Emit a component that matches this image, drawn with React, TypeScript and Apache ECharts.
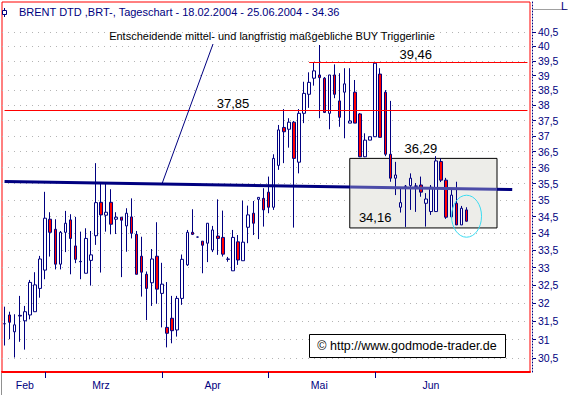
import React, { useEffect, useRef } from "react";
import * as echarts from "echarts";

const TITLE = "BRENT DTD ,BRT-, Tageschart - 18.02.2004 - 25.06.2004 - 34.36";
const NOTE = "Entscheidende mittel- und langfristig maßgebliche BUY Triggerlinie";
const COPYRIGHT = "© http://www.godmode-trader.de";

// [open, close, low, high] per trading day, 18.02.2004 - 25.06.2004
const ohlc: number[][] = [
  [31.43, 31.43, 30.84, 31.90],
  [31.67, 31.47, 31.01, 31.76],
  [31.21, 31.40, 30.52, 31.69],
  [31.66, 31.64, 30.94, 32.20],
  [31.51, 31.76, 30.73, 31.92],
  [31.67, 32.58, 31.55, 32.65],
  [31.76, 32.51, 31.76, 32.87],
  [32.41, 33.25, 32.15, 33.34],
  [32.93, 34.45, 32.67, 35.25],
  [34.42, 34.03, 33.32, 34.63],
  [34.12, 33.10, 32.95, 34.42],
  [33.10, 34.03, 32.95, 34.07],
  [34.03, 34.30, 33.45, 34.67],
  [34.40, 33.85, 32.81, 34.57],
  [33.63, 33.24, 33.13, 34.49],
  [33.18, 33.17, 32.67, 34.05],
  [32.84, 33.85, 32.84, 34.15],
  [33.21, 33.37, 32.49, 34.07],
  [33.93, 34.92, 33.66, 36.14],
  [34.93, 34.55, 32.86, 35.55],
  [34.54, 34.63, 34.05, 35.53],
  [34.93, 34.27, 33.97, 35.33],
  [34.42, 34.48, 33.98, 34.63],
  [34.48, 34.39, 32.73, 34.48],
  [34.22, 34.60, 33.46, 34.75],
  [34.49, 34.00, 33.85, 35.05],
  [33.97, 32.81, 32.81, 34.07],
  [33.33, 32.87, 32.18, 33.90],
  [32.81, 32.41, 31.53, 32.89],
  [32.57, 33.25, 31.92, 33.54],
  [33.33, 32.39, 31.98, 34.33],
  [32.27, 32.53, 31.33, 33.14],
  [31.33, 31.17, 30.79, 32.59],
  [31.58, 31.24, 30.90, 32.20],
  [31.26, 32.13, 31.08, 32.20],
  [32.13, 33.24, 31.95, 33.38],
  [33.08, 34.03, 33.05, 34.10],
  [34.03, 33.97, 33.95, 34.72],
  [33.89, 33.89, 33.88, 33.90],
  [33.77, 33.65, 32.84, 33.77],
  [33.71, 34.30, 33.16, 34.30],
  [33.51, 34.10, 33.45, 34.22],
  [33.92, 33.85, 33.37, 35.02],
  [33.88, 33.39, 33.32, 34.68],
  [33.25, 33.24, 33.17, 33.31],
  [32.91, 33.88, 32.91, 34.10],
  [33.75, 33.22, 33.08, 33.95],
  [33.20, 33.74, 33.20, 34.98],
  [34.18, 34.55, 33.71, 34.83],
  [34.60, 34.30, 33.95, 34.97],
  [35.02, 35.08, 33.83, 35.08],
  [35.05, 34.70, 34.20, 35.36],
  [35.24, 34.78, 34.60, 35.72],
  [34.78, 36.29, 34.70, 36.42],
  [36.07, 37.20, 35.93, 37.36],
  [37.28, 37.14, 36.14, 37.88],
  [37.22, 37.45, 36.63, 37.58],
  [37.45, 36.29, 34.17, 37.49],
  [36.17, 37.74, 35.82, 37.88],
  [37.74, 38.40, 37.42, 38.79],
  [38.37, 38.77, 37.92, 39.11],
  [38.91, 39.16, 38.66, 39.45],
  [39.02, 38.93, 37.58, 40.05],
  [38.91, 37.77, 37.75, 38.95],
  [37.74, 39.02, 37.22, 39.02],
  [39.02, 38.37, 38.24, 39.38],
  [38.15, 37.61, 37.30, 39.08],
  [38.44, 38.72, 36.93, 39.25],
  [37.42, 37.49, 37.42, 39.25],
  [38.44, 37.42, 37.42, 38.85],
  [37.72, 36.34, 36.33, 37.75],
  [36.34, 36.87, 36.33, 37.09],
  [36.87, 36.98, 36.87, 36.98],
  [36.98, 39.42, 36.97, 39.46],
  [39.05, 36.96, 36.96, 39.25],
  [38.44, 36.42, 36.36, 38.51],
  [36.42, 35.67, 35.56, 38.15],
  [35.67, 35.77, 35.15, 36.18],
  [34.78, 34.92, 34.62, 35.36],
  [35.42, 35.42, 34.19, 35.46],
  [35.44, 35.67, 34.70, 35.82],
  [35.42, 35.43, 34.64, 35.52],
  [35.46, 35.24, 35.10, 35.72],
  [34.90, 35.03, 34.20, 35.21],
  [34.65, 35.39, 34.55, 35.46],
  [34.65, 36.21, 34.65, 36.36],
  [36.19, 35.61, 35.55, 36.29],
  [35.61, 34.48, 34.43, 35.68],
  [34.49, 35.15, 34.45, 35.36],
  [34.90, 34.25, 34.25, 35.56],
  [34.25, 34.75, 34.25, 34.82],
  [34.70, 34.36, 34.35, 34.78],
];

const FUTURE_SLOTS = 12;
const HOLIDAYS = ["09.04.2004"];
const MONTH_NAMES = ["Jan", "Feb", "Mrz", "Apr", "Mai", "Jun", "Jul", "Aug"];
const Y_TICKS = [30.5, 31, 31.5, 32, 32.5, 33, 33.5, 34, 34.5, 35, 35.5, 36, 36.5, 37, 37.5, 38, 38.5, 39, 39.5, 40, 40.5];
const TRIGGER_LINE = [[0, 35.57], [100, 35.32]];
const LEVEL_UPPER = 39.46;
const LEVEL_MID = 37.85;
const BOX_TOP = 36.29;
const BOX_BOTTOM = 34.16;
const LAST_PRICE = 34.36;

const NAVY = "#000080";
const FONT = '"Liberation Sans", Arial, Helvetica, sans-serif';

function pad(n: number) {
  return n < 10 ? "0" + n : String(n);
}

function buildDates(count: number): string[] {
  const out: string[] = [];
  const d = new Date(2004, 1, 18);
  while (out.length < count) {
    const wd = d.getDay();
    const s = pad(d.getDate()) + "." + pad(d.getMonth() + 1) + "." + d.getFullYear();
    if (wd !== 0 && wd !== 6 && HOLIDAYS.indexOf(s) < 0) out.push(s);
    d.setDate(d.getDate() + 1);
  }
  return out;
}

const dates = buildDates(ohlc.length + FUTURE_SLOTS);
const monthOf = (s: string) => parseInt(s.split(".")[1], 10);

const monthStarts: number[] = [];
const monthRanges: Record<number, [number, number]> = {};
dates.forEach((s, i) => {
  const m = monthOf(s);
  if (i > 0 && i < ohlc.length && m !== monthOf(dates[i - 1])) monthStarts.push(i);
  if (!monthRanges[m]) monthRanges[m] = [i, i];
  monthRanges[m][1] = i;
});
const labelIdx: number[] = [];
Object.keys(monthRanges).forEach((k) => {
  const m = parseInt(k, 10);
  const [a, b] = monthRanges[m];
  if (a < ohlc.length) labelIdx.push(Math.round((a + b) / 2));
});

const option: any = {
  animation: false,
  backgroundColor: "#FFFFFF",
  title: {
    text: TITLE,
    left: 19,
    top: 6,
    padding: 0,
    textStyle: { fontFamily: FONT, fontSize: 11, fontWeight: "normal", color: NAVY },
  },
  grid: {
    left: 2,
    top: 2,
    right: 38,
    bottom: 23,
    show: true,
    borderColor: "#FF0000",
    borderWidth: 1,
    backgroundColor: "transparent",
  },
  xAxis: {
    type: "category",
    data: dates,
    boundaryGap: true,
    axisLine: { show: true, lineStyle: { color: "#FF0000", width: 2 } },
    axisTick: {
      show: true,
      alignWithLabel: true,
      interval: (i: number) => monthStarts.indexOf(i) >= 0,
      length: 6,
      lineStyle: { color: NAVY },
    },
    axisLabel: {
      interval: (i: number) => labelIdx.indexOf(i) >= 0,
      formatter: (v: string) => MONTH_NAMES[monthOf(v) - 1],
      color: NAVY,
      fontSize: 10.5,
      fontFamily: FONT,
      margin: 7,
    },
    splitLine: { show: false },
  },
  yAxis: {
    type: "log",
    logBase: 10,
    min: 30.138,
    max: 41.576,
    position: "right",
    offset: 2.5,
    axisLine: { show: true, lineStyle: { color: NAVY, type: [1, 2] } },
    axisTick: { show: true, length: 3.5, customValues: Y_TICKS, lineStyle: { color: NAVY } },
    axisLabel: {
      customValues: Y_TICKS,
      formatter: (v: number) => String(v).replace(".", ","),
      color: NAVY,
      fontSize: 10.5,
      fontFamily: FONT,
      margin: 5.5,
    },
    splitLine: { show: true, lineStyle: { color: "#B4B4B4", type: [1, 5], width: 1 } },
  },
  visualMap: {
    show: false,
    type: "piecewise",
    dimension: 0,
    seriesIndex: 1,
    pieces: [
      { lt: 68, color: NAVY },
      { gte: 68, lt: 97, color: "#4C4CA8" },
      { gte: 97, color: NAVY },
    ],
  },
  series: [
    {
      type: "candlestick",
      data: ohlc,
      barWidth: 3,
      z: 2,
      itemStyle: {
        color: "#FFFFFF",
        color0: "#FF0000",
        borderColor: NAVY,
        borderColor0: NAVY,
        borderColorDoji: NAVY,
        borderWidth: 1,
      },
      markArea: {
        silent: true,
        itemStyle: { color: "#EDEDE9", borderColor: "#000000", borderWidth: 1 },
        data: [[{ xAxis: 68, yAxis: BOX_TOP }, { xAxis: 97, yAxis: BOX_BOTTOM }]],
      },
      markLine: {
        silent: true,
        symbol: ["none", "none"],
        lineStyle: { color: "#FF0000", width: 1, type: "solid" },
        label: { show: false },
        data: [
          [{ coord: [0, LEVEL_MID] }, { coord: [103, LEVEL_MID] }],
          [{ coord: [60, LEVEL_UPPER] }, { coord: [103, LEVEL_UPPER] }],
          {
            yAxis: LAST_PRICE,
            lineStyle: { opacity: 0 },
            label: {
              show: true,
              position: "end",
              distance: 1,
              formatter: "- 34.36",
              color: "#000000",
              fontFamily: FONT,
              fontSize: 10.5,
              backgroundColor: "#FFFFE1",
              padding: [2, 6, 1, 2],
            },
          },
        ],
      },
      markPoint: {
        silent: true,
        symbol: "rect",
        symbolSize: 0,
        label: { show: true, position: "top", color: "#000000", fontFamily: FONT, fontSize: 13 },
        data: [
          { coord: [45, LEVEL_MID], label: { formatter: "37,85", distance: 0 } },
          { coord: [81, LEVEL_UPPER], label: { formatter: "39,46", distance: 1 } },
          { coord: [82, BOX_TOP], label: { formatter: "36,29", distance: 3 } },
          { coord: [73, BOX_BOTTOM], label: { formatter: "34,16", distance: 4 } },
        ],
      },
    },
    {
      type: "line",
      data: TRIGGER_LINE,
      z: 3,
      symbol: "none",
      lineStyle: { width: 3 },
    },
  ],
};

export default function App() {
  const ref = useRef<HTMLDivElement>(null);
  useEffect(() => {
    document.body.style.margin = "0";
    const chart = echarts.init(ref.current!, null, { renderer: "svg" });
    chart.setOption(option);
    const pBottom = chart.convertToPixel({ gridIndex: 0 }, [31, 35.49]) as number[];
    const pEll = chart.convertToPixel({ gridIndex: 0 }, [91, 34.51]) as number[];
    chart.setOption({
      graphic: [
        {
          type: "text",
          x: 272,
          y: 36,
          z: 50,
          style: {
            text: NOTE,
            fill: "#000000",
            font: "11px " + FONT,
            align: "center",
            verticalAlign: "middle",
          },
        },
        {
          type: "line",
          z: 50,
          shape: { x1: 213, y1: 44, x2: pBottom[0], y2: pBottom[1] },
          style: { stroke: NAVY, lineWidth: 1 },
        },
        {
          type: "ellipse",
          z: 60,
          shape: { cx: pEll[0], cy: pEll[1], rx: 15, ry: 21 },
          style: { fill: "none", stroke: "#3CDCF2", lineWidth: 1 },
        },
        {
          type: "rect",
          z: 70,
          shape: { x: 309.5, y: 334.5, width: 196, height: 23 },
          style: { fill: "#FFFFFF", stroke: "#000000", lineWidth: 1 },
        },
        {
          type: "text",
          z: 71,
          x: 407,
          y: 346,
          style: {
            text: COPYRIGHT,
            fill: "#000000",
            font: "12.5px " + FONT,
            align: "center",
            verticalAlign: "middle",
          },
        },
        {
          type: "rect",
          z: 40,
          shape: { x: 516, y: 373.5, width: 18, height: 9 },
          style: { fill: "#FFFFFF" },
        },
        {
          type: "line",
          z: 50,
          shape: { x1: 533, y1: 9.5, x2: 568, y2: 9.5 },
          style: { stroke: "#A0A0A0", lineWidth: 1 },
        },
        {
          type: "text",
          z: 50,
          x: 561,
          y: 0,
          style: { text: "L", fill: NAVY, font: "11px " + FONT },
        },
        {
          type: "line",
          z: 50,
          shape: { x1: 1.5, y1: 373, x2: 1.5, y2: 395 },
          style: { stroke: "#909090", lineWidth: 1 },
        },
        {
          type: "line",
          z: 50,
          shape: { x1: 4.5, y1: 8, x2: 4.5, y2: 17 },
          style: { stroke: NAVY, lineWidth: 1 },
        },
        {
          type: "rect",
          z: 51,
          shape: { x: 2.5, y: 10.5, width: 4, height: 4 },
          style: { fill: "#FFFFFF", stroke: NAVY, lineWidth: 1 },
        },
      ],
    });
    return () => chart.dispose();
  }, []);
  return <div ref={ref} style={{ width: 568, height: 395 }} />;
}
